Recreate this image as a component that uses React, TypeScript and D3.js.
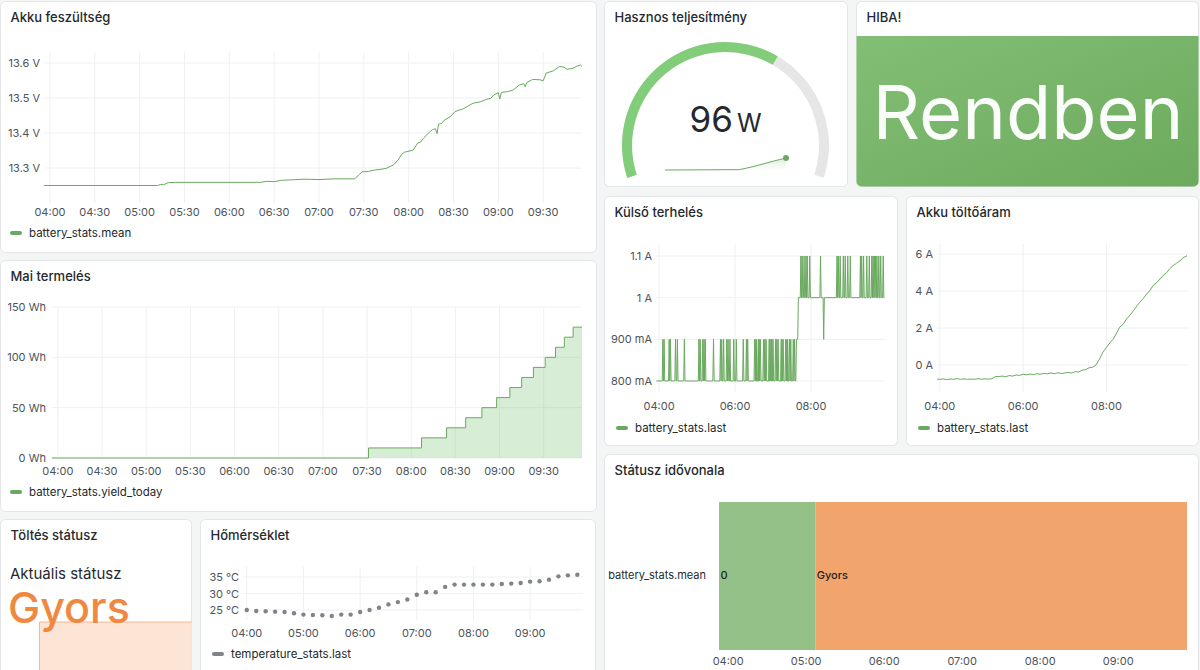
import React from 'react';
import * as d3 from 'd3';

const parseTime = d3.timeParse('%H:%M');
const at = (s: string) => parseTime(s) as Date;
const hhmm = d3.timeFormat('%H:%M');

// dashboard time range (last 6 hours)
const timeRange: [Date, Date] = [at('03:56'), at('09:56')];

// Akku feszültség – battery_stats.mean (V)
const voltage: [string, number][] = [
  ['03:56', 13.25], ['05:12', 13.25], ['05:14', 13.253], ['05:16', 13.252], ['05:19', 13.258],
  ['05:24', 13.259], ['06:21', 13.259], ['06:25', 13.262], ['06:30', 13.261], ['06:35', 13.265],
  ['06:41', 13.266], ['06:50', 13.268], ['07:00', 13.267], ['07:10', 13.269], ['07:24', 13.269],
  ['07:27', 13.282], ['07:29', 13.289], ['07:33', 13.29], ['07:37', 13.294], ['07:41', 13.296],
  ['07:45', 13.299], ['07:48', 13.305], ['07:50', 13.309], ['07:53', 13.323], ['07:55', 13.337],
  ['07:57', 13.345], ['07:59', 13.347], ['08:03', 13.351], ['08:06', 13.371], ['08:08', 13.374],
  ['08:10', 13.385], ['08:13', 13.399], ['08:16', 13.41], ['08:18', 13.412], ['08:19', 13.398],
  ['08:20', 13.425], ['08:22', 13.427], ['08:24', 13.437], ['08:28', 13.447], ['08:31', 13.461],
  ['08:34', 13.466], ['08:36', 13.468], ['08:39', 13.475], ['08:43', 13.485], ['08:48', 13.489],
  ['08:52', 13.496], ['08:55', 13.499], ['08:57', 13.509], ['09:00', 13.515], ['09:01', 13.497],
  ['09:02', 13.516], ['09:06', 13.518], ['09:10', 13.523], ['09:14', 13.537], ['09:17', 13.541],
  ['09:18', 13.532], ['09:19', 13.544], ['09:23', 13.553], ['09:28', 13.552], ['09:30', 13.549],
  ['09:32', 13.571], ['09:37', 13.578], ['09:41', 13.59], ['09:44', 13.588], ['09:46', 13.582],
  ['09:50', 13.585], ['09:53', 13.592], ['09:55', 13.594], ['09:56', 13.59],
];

// Mai termelés – battery_stats.yield_today (Wh)
const yieldToday: [string, number][] = [
  ['03:56', 0], ['07:31', 10], ['08:07', 20], ['08:24', 30], ['08:37', 40], ['08:48', 50],
  ['08:58', 60], ['09:07', 70], ['09:15', 80], ['09:23', 90], ['09:31', 100], ['09:38', 110],
  ['09:44', 120], ['09:50', 130], ['09:56', 130],
];

// Külső terhelés – base level (mA) and one-sample spikes
const loadLevels: [string, number][] = [
  ['03:56', 800], ['07:36', 800], ['07:37', 900], ['07:39', 900], ['07:40', 1000], ['09:56', 1000],
];
const loadSpikes900 = [
  '04:06', '04:08', '04:16', '04:18', '04:26', '04:29', '04:40', '05:03', '05:05', '05:09',
  '05:11', '05:13', '05:26', '05:37', '05:39', '05:42', '05:47', '05:49', '05:52', '05:58',
  '06:02', '06:13', '06:18', '06:20', '06:31', '06:33', '06:34', '06:37', '06:38', '06:40',
  '06:45', '06:47', '06:49', '06:54', '06:55', '06:57', '06:58', '07:00', '07:04', '07:06',
  '07:08', '07:13', '07:14', '07:16', '07:20', '07:22', '07:23', '07:26', '07:28', '07:32',
  '07:34',
];
const loadSpikes1100 = [
  '07:44', '07:46', '07:49', '07:52', '07:54', '07:58', '08:15', '08:41', '08:43', '08:46',
  '08:51', '08:54', '08:58', '09:02', '09:18', '09:20', '09:23', '09:28', '09:32', '09:36',
  '09:38', '09:40', '09:42', '09:44', '09:47', '09:50', '09:54',
];
const loadDips900 = ['08:20'];

// Akku töltőáram – battery_stats.last (A)
const chargeCurrent: [string, number][] = [
  ['03:56', -0.76], ['04:00', -0.78], ['04:05', -0.75], ['04:10', -0.79], ['04:15', -0.76],
  ['04:20', -0.77], ['04:25', -0.74], ['04:30', -0.77], ['04:35', -0.75], ['04:40', -0.78],
  ['04:45', -0.76], ['04:50', -0.77], ['04:55', -0.74], ['05:00', -0.77], ['05:05', -0.75],
  ['05:10', -0.76], ['05:15', -0.74], ['05:20', -0.63], ['05:25', -0.62], ['05:30', -0.6],
  ['05:35', -0.63], ['05:40', -0.57], ['05:45', -0.6], ['05:50', -0.54], ['05:55', -0.56],
  ['06:00', -0.5], ['06:05', -0.53], ['06:10', -0.49], ['06:15', -0.52], ['06:20', -0.47],
  ['06:25', -0.5], ['06:30', -0.45], ['06:35', -0.48], ['06:40', -0.43], ['06:45', -0.47],
  ['06:50', -0.42], ['06:55', -0.46], ['07:00', -0.43], ['07:05', -0.4], ['07:10', -0.44],
  ['07:15', -0.36], ['07:20', -0.38], ['07:25', -0.28], ['07:30', -0.25], ['07:35', -0.15],
  ['07:40', -0.12], ['07:45', 0.0], ['07:50', 0.32], ['07:55', 0.7], ['08:00', 0.95],
  ['08:05', 1.2], ['08:10', 1.41], ['08:15', 1.75], ['08:19', 2.04], ['08:24', 2.2],
  ['08:29', 2.49], ['08:34', 2.7], ['08:39', 2.94], ['08:44', 3.2], ['08:48', 3.39],
  ['08:53', 3.6], ['08:58', 3.84], ['09:03', 4.05], ['09:07', 4.29], ['09:12', 4.45],
  ['09:17', 4.65], ['09:22', 4.85], ['09:27', 5.0], ['09:31', 5.2], ['09:36', 5.37],
  ['09:41', 5.5], ['09:46', 5.64], ['09:50', 5.78], ['09:53', 5.85], ['09:56', 5.91],
];

// Hőmérséklet – temperature_stats.last (°C)
const temperature: [string, number][] = [
  ['04:00', 25.0], ['04:10', 24.7], ['04:20', 24.6], ['04:30', 24.5], ['04:40', 24.4],
  ['04:50', 24.0], ['05:00', 23.6], ['05:10', 23.5], ['05:20', 23.4], ['05:30', 23.2],
  ['05:40', 23.6], ['05:50', 23.6], ['06:00', 24.4], ['06:10', 25.0], ['06:20', 25.7],
  ['06:30', 26.7], ['06:40', 27.4], ['06:50', 28.2], ['07:00', 29.6], ['07:10', 30.4],
  ['07:20', 30.4], ['07:30', 32.0], ['07:40', 32.7], ['07:50', 32.7], ['08:00', 32.7],
  ['08:10', 32.7], ['08:20', 32.7], ['08:30', 32.9], ['08:40', 33.0], ['08:50', 33.2],
  ['09:00', 33.6], ['09:10', 33.7], ['09:20', 34.2], ['09:30', 35.2], ['09:40', 35.5],
  ['09:50', 35.7],
];

// Státusz idővonala / Töltés státusz
const statusStates: [string, string][] = [['03:56', '0'], ['05:10', 'Gyors']];
const statusColors: Record<string, string> = { '0': '#94c187', Gyors: '#f1a56d' };
const statusLevel: Record<string, number> = { '0': 0, Gyors: 3 };

// Hasznos teljesítmény (W)
const powerNow = 96;
const powerMax = 150;
const powerTrend: [string, number][] = [
  ['03:56', 0], ['07:38', 3], ['08:15', 25], ['08:50', 50], ['09:20', 72], ['09:56', 96],
];

const FONT = 'Inter, "Noto Sans", sans-serif';
const TEXT = '#24292e';
const AXIS_TEXT = '#4d5359';
const GRID = '#eef0f1';
const BORDER = '#e3e5e8';
const GREEN = '#73bf69';
const LINE = '#6aa95f';

type Box = { x: number; y: number; w: number; h: number };

function Frame({ box, title, id }: { box: Box; title: string; id: string }) {
  return (
    <g>
      <clipPath id={id}>
        <rect x={box.x} y={box.y} width={box.w} height={box.h} rx={5} />
      </clipPath>
      <rect x={box.x} y={box.y} width={box.w} height={box.h} rx={5} fill="#fff" stroke={BORDER} />
      <text x={box.x + 10} y={box.y + 20.5} fontSize={13} fontWeight={500} fill={TEXT}>
        {title}
      </text>
    </g>
  );
}

function TimeGrid({ x, ticks, top, bottom, labelY }: {
  x: d3.ScaleTime<number, number>; ticks: Date[]; top: number; bottom: number; labelY: number;
}) {
  return (
    <g>
      {ticks.map((t) => (
        <g key={+t}>
          <line x1={x(t)} x2={x(t)} y1={top} y2={bottom} stroke={GRID} />
          <text x={x(t)} y={labelY} textAnchor="middle" fontSize={11} fill={AXIS_TEXT}>
            {hhmm(t)}
          </text>
        </g>
      ))}
    </g>
  );
}

function ValueGrid({ y, ticks, left, right, labelX, format }: {
  y: d3.ScaleLinear<number, number>; ticks: number[]; left: number; right: number; labelX: number;
  format: (v: number) => string;
}) {
  return (
    <g>
      {ticks.map((v) => (
        <g key={v}>
          <line x1={left} x2={right} y1={y(v)} y2={y(v)} stroke={GRID} />
          <text x={labelX} y={y(v) + 4} textAnchor="end" fontSize={11} fill={AXIS_TEXT}>
            {format(v)}
          </text>
        </g>
      ))}
    </g>
  );
}

function Legend({ x, y, color, label }: { x: number; y: number; color: string; label: string }) {
  return (
    <g>
      <rect x={x} y={y - 2} width={12} height={4} rx={2} fill={color} />
      <text x={x + 19} y={y + 4} fontSize={11.5} fill={TEXT}>{label}</text>
    </g>
  );
}

function VoltagePanel() {
  const box = { x: 0.5, y: 1.5, w: 596, h: 251 };
  const x = d3.scaleTime().domain(timeRange).range([44, 582]);
  const y = d3.scaleLinear().domain([13.3, 13.6]).range([168, 63]);
  const line = d3.line<[string, number]>().x((d) => x(at(d[0]))).y((d) => y(d[1]));
  return (
    <g>
      <Frame box={box} title="Akku feszültség" id="clip-volt" />
      <TimeGrid x={x} ticks={x.ticks(d3.timeMinute.every(30)!)} top={52} bottom={203} labelY={216} />
      <ValueGrid y={y} ticks={[13.3, 13.4, 13.5, 13.6]} left={44} right={582} labelX={40}
        format={(v) => `${v.toFixed(1)} V`} />
      <path d={line(voltage) ?? ''} fill="none" stroke={LINE} strokeWidth={1} />
      <Legend x={10} y={233} color={LINE} label="battery_stats.mean" />
    </g>
  );
}

function YieldPanel() {
  const box = { x: 0.5, y: 260.5, w: 596, h: 251 };
  const x = d3.scaleTime().domain(timeRange).range([52, 582]);
  const y = d3.scaleLinear().domain([0, 150]).range([458, 307]);
  const line = d3.line<[string, number]>().x((d) => x(at(d[0]))).y((d) => y(d[1])).curve(d3.curveStepAfter);
  const area = d3.area<[string, number]>().x((d) => x(at(d[0]))).y0(y(0)).y1((d) => y(d[1])).curve(d3.curveStepAfter);
  return (
    <g>
      <Frame box={box} title="Mai termelés" id="clip-yield" />
      <TimeGrid x={x} ticks={x.ticks(d3.timeMinute.every(30)!)} top={307} bottom={458} labelY={475} />
      <ValueGrid y={y} ticks={[0, 50, 100, 150]} left={52} right={582} labelX={46}
        format={(v) => `${v} Wh`} />
      <path d={area(yieldToday) ?? ''} fill={GREEN} fillOpacity={0.28} />
      <path d={line(yieldToday) ?? ''} fill="none" stroke={LINE} strokeWidth={1} />
      <Legend x={10} y={492} color={LINE} label="battery_stats.yield_today" />
    </g>
  );
}

function ChargeStatusPanel() {
  const box = { x: 0.5, y: 519.5, w: 191, h: 170 };
  const x = d3.scaleTime().domain(timeRange).range([0, 192]);
  const y = d3.scaleLinear().domain([0, 3]).range([720, 622]);
  const series = [...statusStates, ['09:56', statusStates[statusStates.length - 1][1]]] as [string, string][];
  const area = d3.area<[string, string]>().x((d) => x(at(d[0]))).y0(720).y1((d) => y(statusLevel[d[1]])).curve(d3.curveStepAfter);
  const line = d3.line<[string, string]>().x((d) => x(at(d[0]))).y((d) => y(statusLevel[d[1]])).curve(d3.curveStepAfter);
  const current = statusStates[statusStates.length - 1][1];
  return (
    <g>
      <Frame box={box} title="Töltés státusz" id="clip-charge" />
      <g clipPath="url(#clip-charge)">
        <path d={area(series) ?? ''} fill="#fde5d6" />
        <path d={line(series) ?? ''} fill="none" stroke="#f6b68e" strokeWidth={1} />
      </g>
      <text x={10} y={579} fontSize={15} fill={TEXT}>Aktuális státusz</text>
      <text x={8} y={623} fontSize={43} fontWeight={500} fill="#ef8942">{current}</text>
    </g>
  );
}

function TemperaturePanel() {
  const box = { x: 200.5, y: 519.5, w: 395, h: 170 };
  const x = d3.scaleTime().domain(timeRange).range([243, 583]);
  const y = d3.scaleLinear().domain([25, 35]).range([610, 577]);
  return (
    <g>
      <Frame box={box} title="Hőmérséklet" id="clip-temp" />
      <TimeGrid x={x} ticks={x.ticks(d3.timeHour.every(1)!)} top={567} bottom={620} labelY={637} />
      <ValueGrid y={y} ticks={[25, 30, 35]} left={243} right={583} labelX={239}
        format={(v) => `${v} °C`} />
      {temperature.map((d) => (
        <circle key={d[0]} cx={x(at(d[0]))} cy={y(d[1])} r={2.2} fill="#808387" />
      ))}
      <Legend x={212} y={654} color="#808387" label="temperature_stats.last" />
    </g>
  );
}

function PowerGaugePanel() {
  const box = { x: 604.5, y: 1.5, w: 243, h: 185 };
  const cx = 725.5;
  const cy = 145.5;
  const start = (-108.3 * Math.PI) / 180;
  const angle = d3.scaleLinear().domain([0, powerMax]).range([start, -start]);
  const arc = d3.arc();
  const track = arc({ innerRadius: 93.5, outerRadius: 103.5, startAngle: start, endAngle: -start }) ?? '';
  const value = arc({ innerRadius: 93.5, outerRadius: 103.5, startAngle: start, endAngle: angle(powerNow) }) ?? '';
  const sx = d3.scaleTime().domain(timeRange).range([665, 786]);
  const sy = d3.scaleLinear().domain([0, powerNow]).range([170, 158]);
  const sLine = d3.line<[string, number]>().x((d) => sx(at(d[0]))).y((d) => sy(d[1]));
  const sArea = d3.area<[string, number]>().x((d) => sx(at(d[0]))).y0(171).y1((d) => sy(d[1]));
  const last = powerTrend[powerTrend.length - 1];
  return (
    <g>
      <Frame box={box} title="Hasznos teljesítmény" id="clip-power" />
      <defs>
        <linearGradient id="gauge-green" gradientUnits="userSpaceOnUse" x1={622} y1={180} x2={790} y2={50}>
          <stop offset="0" stopColor="#82cd7a" />
          <stop offset="1" stopColor="#6da763" />
        </linearGradient>
        <linearGradient id="spark-fade" x1="0" y1="0" x2="0" y2="1">
          <stop offset="0" stopColor={GREEN} stopOpacity={0.22} />
          <stop offset="1" stopColor={GREEN} stopOpacity={0} />
        </linearGradient>
      </defs>
      <g transform={`translate(${cx},${cy})`}>
        <path d={track} fill="#e6e6e6" />
        <path d={value} fill="url(#gauge-green)" />
      </g>
      <path d={sArea(powerTrend) ?? ''} fill="url(#spark-fade)" />
      <path d={sLine(powerTrend) ?? ''} fill="none" stroke={LINE} strokeWidth={1} />
      <circle cx={sx(at(last[0]))} cy={sy(last[1])} r={3} fill="#6aa95f" />
      <text x={cx} y={132} textAnchor="middle" fill={TEXT}>
        <tspan fontSize={35}>{powerNow}</tspan>
        <tspan fontSize={25} dx={4}>W</tspan>
      </text>
    </g>
  );
}

function ErrorPanel() {
  const box = { x: 856.5, y: 1.5, w: 342, h: 185 };
  return (
    <g>
      <defs>
        <linearGradient id="ok-green" x1="0" y1="0" x2="1" y2="1">
          <stop offset="0" stopColor="#83be75" />
          <stop offset="1" stopColor="#6caa5d" />
        </linearGradient>
      </defs>
      <Frame box={box} title="HIBA!" id="clip-error" />
      <g clipPath="url(#clip-error)">
        <rect x={856} y={36} width={344} height={152} fill="url(#ok-green)" />
      </g>
      <text x={1028} y={139} textAnchor="middle" fontSize={74} fontWeight={400} fill="#fbfdfb">Rendben</text>
    </g>
  );
}

function LoadPanel() {
  const box = { x: 604.5, y: 196.5, w: 293, h: 249 };
  const x = d3.scaleTime().domain(timeRange).range([656.5, 884.5]);
  const y = d3.scaleLinear().domain([800, 1100]).range([381, 256]);
  // one-minute samples: each spike rises for a single reading
  const minute = 60 * 1000;
  const points: [Date, number][] = loadLevels.map((d) => [at(d[0]), d[1]]);
  const spike = (t: string, base: number, top: number) => {
    const d = at(t);
    points.push([new Date(+d - minute), base], [d, top], [new Date(+d + minute), base]);
  };
  loadSpikes900.forEach((t) => spike(t, 800, 900));
  loadSpikes1100.forEach((t) => spike(t, 1000, 1100));
  loadDips900.forEach((t) => spike(t, 1000, 900));
  points.sort((a, b) => +a[0] - +b[0]);
  const line = d3.line<[Date, number]>().x((d) => x(d[0])).y((d) => y(d[1]));
  const fmt = (v: number) => (v >= 1000 ? `${v / 1000} A` : `${v} mA`);
  return (
    <g>
      <Frame box={box} title="Külső terhelés" id="clip-load" />
      <TimeGrid x={x} ticks={x.ticks(d3.timeHour.every(2)!)} top={244} bottom={392} labelY={410} />
      <ValueGrid y={y} ticks={[800, 900, 1000, 1100]} left={656} right={885} labelX={652} format={fmt} />
      <path d={line(points) ?? ''} fill="none" stroke={LINE} strokeWidth={1} />
      <Legend x={616} y={428} color={LINE} label="battery_stats.last" />
    </g>
  );
}

function CurrentPanel() {
  const box = { x: 906.5, y: 196.5, w: 292, h: 249 };
  const x = d3.scaleTime().domain(timeRange).range([937, 1187]);
  const y = d3.scaleLinear().domain([0, 6]).range([365, 254]);
  const line = d3.line<[string, number]>().x((d) => x(at(d[0]))).y((d) => y(d[1]));
  return (
    <g>
      <Frame box={box} title="Akku töltőáram" id="clip-current" />
      <TimeGrid x={x} ticks={x.ticks(d3.timeHour.every(2)!)} top={244} bottom={392} labelY={410} />
      <ValueGrid y={y} ticks={[0, 2, 4, 6]} left={937} right={1188} labelX={933}
        format={(v) => `${v} A`} />
      <path d={line(chargeCurrent) ?? ''} fill="none" stroke={LINE} strokeWidth={1} />
      <Legend x={918} y={428} color={LINE} label="battery_stats.last" />
    </g>
  );
}

function StatusTimelinePanel() {
  const box = { x: 604.5, y: 454.5, w: 594, h: 230 };
  const x = d3.scaleTime().domain(timeRange).range([719, 1187]);
  const segments = statusStates.map((s, i) => ({
    state: s[1],
    from: at(s[0]),
    to: i + 1 < statusStates.length ? at(statusStates[i + 1][0]) : timeRange[1],
  }));
  return (
    <g>
      <Frame box={box} title="Státusz idővonala" id="clip-status" />
      {segments.map((s) => (
        <g key={s.state}>
          <rect x={x(s.from)} y={502} width={x(s.to) - x(s.from)} height={148} fill={statusColors[s.state]} />
          <text x={x(s.from) + 1.5} y={579} fontSize={11} fontWeight={500} fill="#1d2420">{s.state}</text>
        </g>
      ))}
      <text x={706} y={579} textAnchor="end" fontSize={11} fill={TEXT}>battery_stats.mean</text>
      {x.ticks(d3.timeHour.every(1)!).map((t) => (
        <text key={+t} x={x(t) + 4} y={665} textAnchor="middle" fontSize={11} fill={AXIS_TEXT}>{hhmm(t)}</text>
      ))}
    </g>
  );
}

export default function App() {
  return (
    <>
      <style>{'body{margin:0}'}</style>
      <svg width={1200} height={670} style={{ display: 'block', fontFamily: FONT }}>
        <rect width={1200} height={670} fill="#f4f5f5" />
        <VoltagePanel />
        <YieldPanel />
        <ChargeStatusPanel />
        <TemperaturePanel />
        <PowerGaugePanel />
        <ErrorPanel />
        <LoadPanel />
        <CurrentPanel />
        <StatusTimelinePanel />
      </svg>
    </>
  );
}
